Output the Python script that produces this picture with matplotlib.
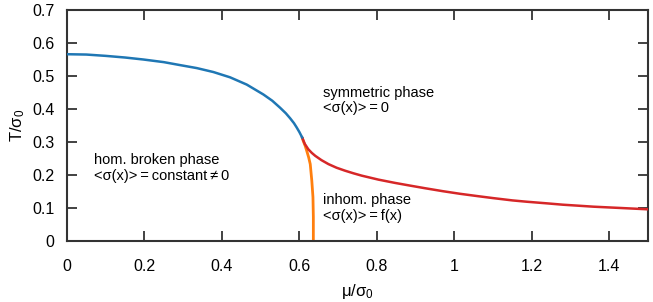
import matplotlib
matplotlib.use("Agg")
import matplotlib.pyplot as plt

plt.rcParams['font.family'] = ['Liberation Sans', 'DejaVu Sans']
plt.rcParams['mathtext.fontset'] = 'custom'
plt.rcParams['mathtext.rm'] = 'Liberation Sans'
plt.rcParams['mathtext.it'] = 'Liberation Sans'

# homogeneous broken -> symmetric (blue)
blue_mu = [0.0, 0.05, 0.10, 0.15, 0.197, 0.25, 0.292, 0.335, 0.378, 0.421, 0.464,
           0.507, 0.530, 0.550, 0.565, 0.576, 0.586, 0.593, 0.600, 0.607]
blue_T = [0.566, 0.565, 0.561, 0.556, 0.550, 0.542, 0.533, 0.524, 0.512, 0.496, 0.474,
          0.444, 0.425, 0.404, 0.387, 0.372, 0.357, 0.344, 0.330, 0.314]

# inhomogeneous -> symmetric (red)
red_mu = [0.607, 0.614, 0.623, 0.632, 0.641, 0.657, 0.675, 0.696, 0.718, 0.740, 0.761,
          0.804, 0.847, 0.885, 0.924, 0.970, 1.015, 1.060, 1.100, 1.150, 1.187,
          1.240, 1.280, 1.320, 1.359, 1.430, 1.500]
red_T = [0.314, 0.294, 0.278, 0.267, 0.258, 0.245, 0.233, 0.222, 0.213, 0.205, 0.198,
         0.186, 0.176, 0.168, 0.160, 0.151, 0.143, 0.136, 0.130, 0.123, 0.119,
         0.114, 0.110, 0.107, 0.104, 0.100, 0.096]

# homogeneous broken -> inhomogeneous (orange)
orange_mu = [0.607, 0.610, 0.615, 0.619, 0.624, 0.628, 0.632, 0.635, 0.636, 0.636]
orange_T = [0.314, 0.303, 0.288, 0.273, 0.253, 0.233, 0.183, 0.133, 0.073, 0.0]

xticks = [0, 0.2, 0.4, 0.6, 0.8, 1.0, 1.2, 1.4]
yticks = [0, 0.1, 0.2, 0.3, 0.4, 0.5, 0.6, 0.7]

fig = plt.figure(figsize=(6.53, 3.02), dpi=100)
ax = fig.add_axes([67/653, 1-241/302, (648-67)/653, (241-10)/302])

ax.plot(orange_mu, orange_T, color='#ff7f0e', lw=2.0, zorder=2, solid_capstyle='butt')
ax.plot(red_mu, red_T, color='#d62728', lw=1.8, zorder=3)
ax.plot(blue_mu, blue_T, color='#1f77b4', lw=1.8, zorder=4)

ax.set_xlim(0, 1.5)
ax.set_ylim(0, 0.7)
ax.set_xticks(xticks)
ax.set_yticks(yticks)
ax.set_xticklabels(['%g' % v for v in xticks])
ax.set_yticklabels(['%g' % v for v in yticks])
ax.tick_params(direction='in', length=7, width=1.2, top=True, right=True,
               labelsize=11.5, colors='#222222', labelcolor='black')
ax.tick_params(axis='x', pad=13)
ax.tick_params(axis='y', pad=9)
for s in ax.spines.values():
    s.set_linewidth(1.5)
    s.set_color('#333333')

ax.set_xlabel('μ/σ$_0$', fontsize=12, labelpad=6)
ax.set_ylabel('T/σ$_0$', fontsize=12, labelpad=4)

fs = 10.5
ts = '\u2009'
ax.text(0.660, 0.450, 'symmetric phase', fontsize=fs, va='center', ha='left')
ax.text(0.660, 0.402, '<σ(x)>' + ts + '=' + ts + '0', fontsize=fs, va='center', ha='left')
ax.text(0.070, 0.246, 'hom. broken phase', fontsize=fs, va='center', ha='left')
ax.text(0.070, 0.198, '<σ(x)>' + ts + '=' + ts + 'constant' + ts + '≠' + ts + '0', fontsize=fs, va='center', ha='left')
ax.text(0.660, 0.124, 'inhom. phase', fontsize=fs, va='center', ha='left')
ax.text(0.660, 0.076, '<σ(x)>' + ts + '=' + ts + 'f(x)', fontsize=fs, va='center', ha='left')

fig.savefig('out.png', dpi=100)
